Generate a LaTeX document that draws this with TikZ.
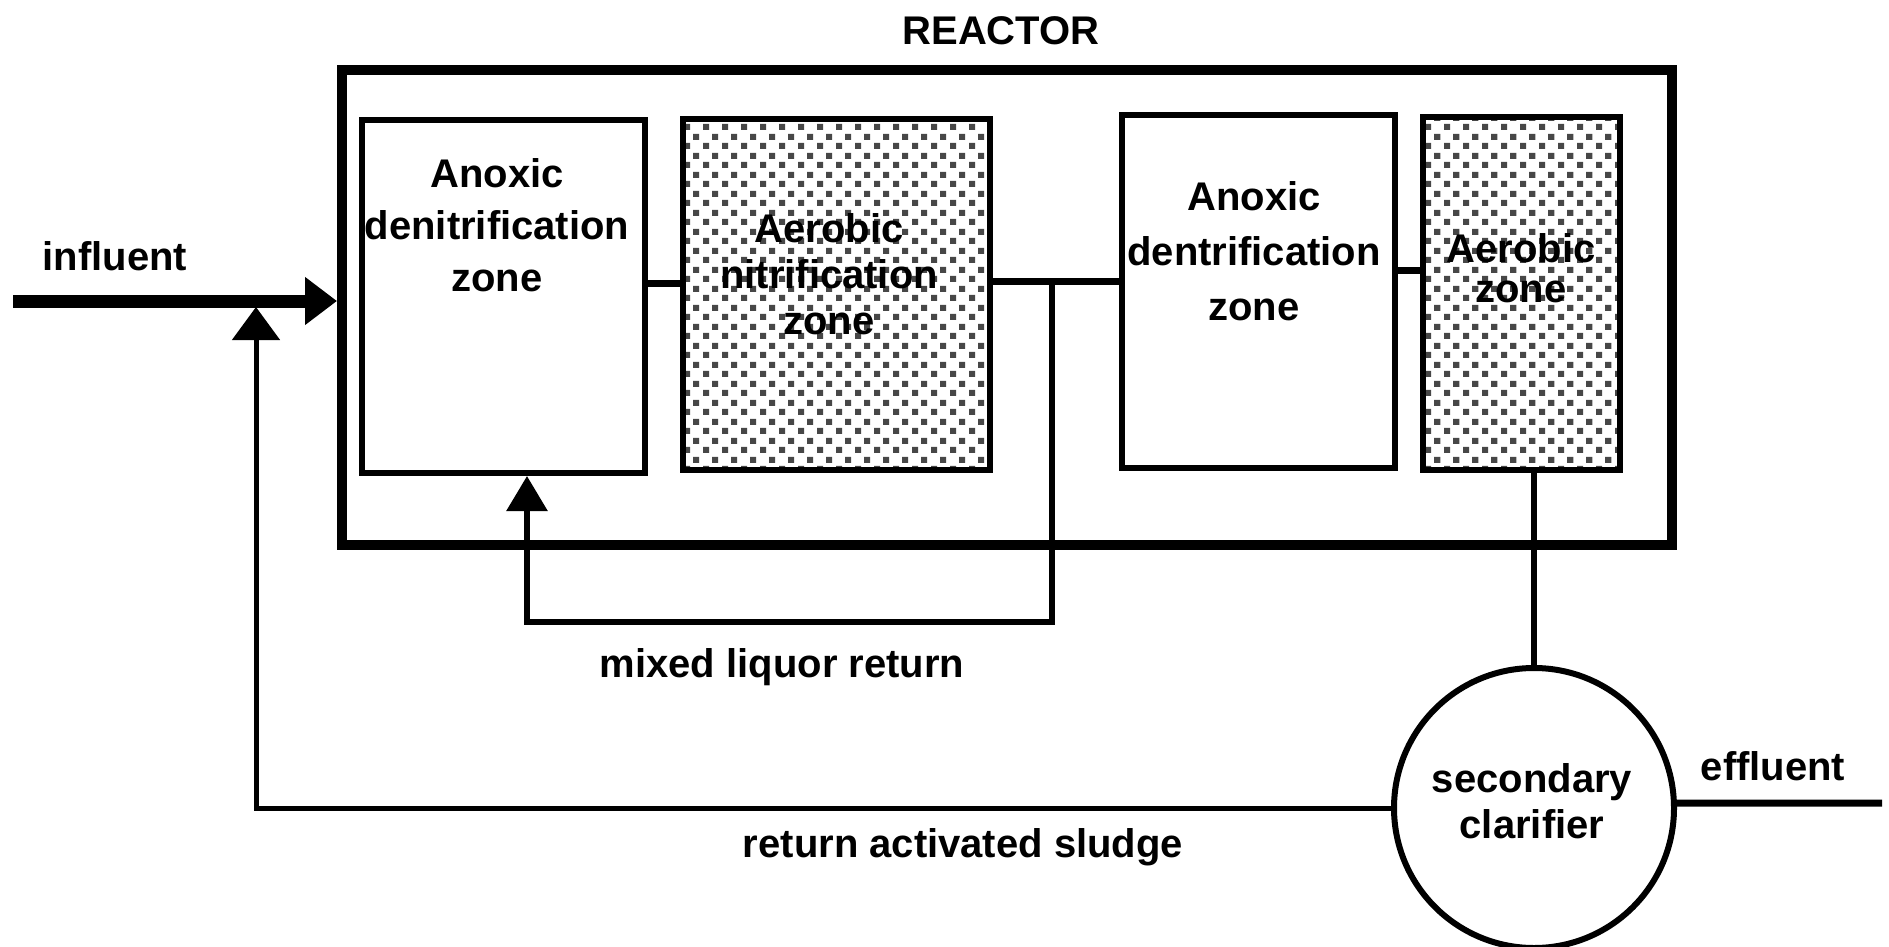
\documentclass[tikz,border=0pt]{standalone}
\usepackage{fontspec}
\setmainfont{Liberation Sans}
\usetikzlibrary{arrows.meta, positioning, patterns}

\pgfdeclarepatternformonly{zonedots}{\pgfpointorigin}{\pgfpoint{19pt}{19pt}}{\pgfpoint{19pt}{19pt}}{%
  \pgfpathrectangle{\pgfpoint{0pt}{0pt}}{\pgfpoint{6.5pt}{6.5pt}}%
  \pgfpathrectangle{\pgfpoint{9.5pt}{9.5pt}}{\pgfpoint{6.5pt}{6.5pt}}%
  \pgfusepath{fill}}

\begin{document}
\begin{tikzpicture}[
    x=1pt, y=-1pt,
    zone/.style={draw, line width=6pt, inner sep=0pt},
    dotzone/.style={zone, pattern=zonedots, pattern color=black!72},
    txt/.style={font=\fontsize{40}{#1}\selectfont\bfseries, align=center, inner sep=0pt},
    txt/.default=48,
    link/.style={line width=7pt},
    ret/.style={line width=5pt}
  ]
  \useasboundingbox (0,0) rectangle (1889,947);

  \node[draw, line width=10pt, minimum width=1330pt, minimum height=475pt,
        inner sep=0pt] (reactor) at (1007,307.5) {};
  \node[txt, anchor=base] (title) at (1001,45) {REACTOR};

  \node[zone, minimum width=283pt, minimum height=353pt] (anox1) at (503.5,296.5) {};
  \node[dotzone, minimum width=307pt, minimum height=351pt] (aero1) at (836.5,294.5) {};
  \node[zone, minimum width=273pt, minimum height=353pt] (anox2) at (1258.5,291.5) {};
  \node[dotzone, minimum width=197pt, minimum height=353pt] (aero2) at (1521.5,293.5) {};
  \node[draw, circle, line width=6pt, minimum size=280pt, inner sep=0pt] (clar) at (1534,808) {};

  \node[txt=52, anchor=north] (anox1txt) at (497,158) {Anoxic\\denitrification\\zone};
  \node[txt=46, anchor=north] (aero1txt) at (829,213) {Aerobic\\nitrification\\zone};
  \node[txt=55, anchor=north] (anox2txt) at (1254,181) {Anoxic\\dentrification\\zone};
  \node[txt=40, anchor=north] (aero2txt) at (1521,233) {Aerobic\\zone};
  \node[txt=46, anchor=north] (clartxt) at (1532,763) {secondary\\clarifier};

  \node[txt, anchor=base] (inftxt) at (115,270) {influent};
  \node[txt, anchor=base] (efftxt) at (1773,780) {effluent};
  \node[txt, anchor=base] (mlrtxt) at (782,677) {mixed liquor return};
  \node[txt, anchor=base] (rastxt) at (963,857) {return activated sludge};

  \coordinate (infin) at (13,301);
  \coordinate (mlr) at (1052,281);
  \coordinate (mlrbot) at (1052,622);
  \coordinate (rasin) at (256,307);
  \coordinate (effout) at (1882,803);

  % flow through the reactor
  \draw[line width=13pt, -{Triangle[length=32pt, width=46pt]}] (infin) -- (infin -| reactor.west);
  \draw[link] (anox1.east |- 0,283) -- (aero1.west |- 0,283);
  \draw[link] (aero1.east |- mlr) -- (anox2.west |- mlr);
  \draw[link] (anox2.east |- 0,270) -- (aero2.west |- 0,270);
  \draw[line width=6pt] (clar.north) -- (clar.north |- aero2.south);
  \draw[link] (clar.2) -- (effout);

  % recycle lines
  \draw[line width=6pt, -{Triangle[length=35pt, width=40pt]}]
    (mlr) -- (mlrbot) -| ([xshift=23.5pt]anox1.south);
  \draw[ret, -{Triangle[length=33pt, width=47pt]}] (clar.west) -| (rasin);
\end{tikzpicture}
\end{document}
